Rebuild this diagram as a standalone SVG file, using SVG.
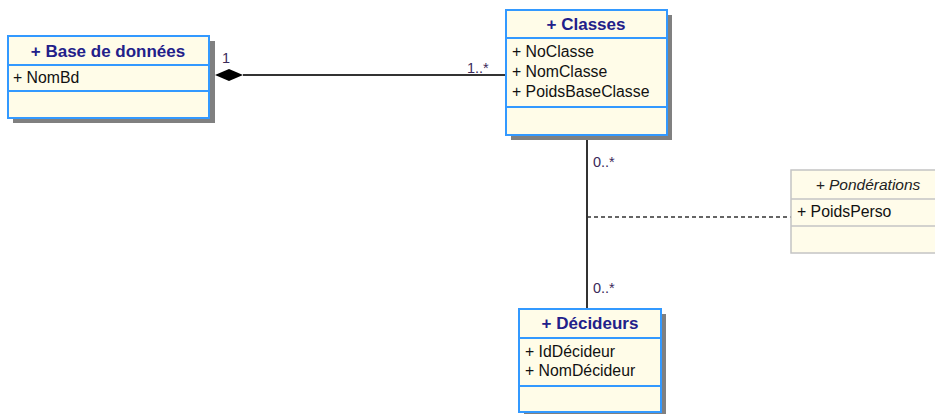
<svg xmlns="http://www.w3.org/2000/svg" width="935" height="414" viewBox="0 0 935 414">
  <style>
    .shadow { fill: #808080; }
    .box { fill: #fffce8; stroke: #3399ff; stroke-width: 2; }
    .sep { stroke: #3399ff; stroke-width: 2; }
    .box2 { fill: #fffcea; stroke: #c4c4c4; stroke-width: 1.5; }
    .sep2 { stroke: #c4c4c4; stroke-width: 1.5; }
    .title { font-family: "Liberation Sans", Arial, sans-serif; font-size: 17px; font-weight: bold; fill: #22208a; text-anchor: middle; }
    .ititle { font-family: "Liberation Sans", Arial, sans-serif; font-size: 15.5px; font-style: italic; fill: #222; text-anchor: middle; }
    .attr { font-family: "Liberation Sans", Arial, sans-serif; font-size: 15.8px; fill: #111; }
    .mult { font-family: "Liberation Sans", Arial, sans-serif; font-size: 14.5px; fill: #3a2a5a; }
    .line { stroke: #333; stroke-width: 2; fill: none; }
    .dash { stroke: #333; stroke-width: 1.5; stroke-dasharray: 4 3; fill: none; }
  </style>

  <g id="connectors">
    <!-- composition Base de données 1 -> 1..* Classes -->
    <line class="line" x1="243" y1="75" x2="506" y2="75"/>
    <polygon points="215,75 229,69 243,75 229,81" fill="#000"/>
    <text class="mult" x="222" y="63">1</text>
    <text class="mult" x="467" y="73">1..*</text>
    <!-- association Classes 0..* - 0..* Décideurs -->
    <line class="line" x1="587" y1="136" x2="587" y2="309"/>
    <text class="mult" x="593" y="167">0..*</text>
    <text class="mult" x="593" y="293">0..*</text>
    <!-- association class link -->
    <line class="dash" x1="587" y1="217" x2="791" y2="217"/>
  </g>

  <g id="base-de-donnees">
    <rect class="shadow" x="13" y="41" width="202" height="82"/>
    <rect class="box" x="8" y="36" width="201" height="82"/>
    <line class="sep" x1="8" y1="65" x2="209" y2="65"/>
    <line class="sep" x1="8" y1="91" x2="209" y2="91"/>
    <text class="title" x="108" y="57">+ Base de données</text>
    <text class="attr" x="13" y="83">+ NomBd</text>
  </g>

  <g id="classes">
    <rect class="shadow" x="511" y="15" width="161" height="125"/>
    <rect class="box" x="506" y="10" width="161" height="125"/>
    <line class="sep" x1="506" y1="38" x2="667" y2="38"/>
    <line class="sep" x1="506" y1="107" x2="667" y2="107"/>
    <text class="title" x="586" y="30">+ Classes</text>
    <text class="attr" x="512" y="57">+ NoClasse</text>
    <text class="attr" x="512" y="77">+ NomClasse</text>
    <text class="attr" x="512" y="97">+ PoidsBaseClasse</text>
  </g>

  <g id="ponderations">
    <rect class="box2" x="791" y="170" width="160" height="83"/>
    <line class="sep2" x1="791" y1="199" x2="935" y2="199"/>
    <line class="sep2" x1="791" y1="226" x2="935" y2="226"/>
    <text class="ititle" x="868" y="190">+ Pondérations</text>
    <text class="attr" x="797" y="217">+ PoidsPerso</text>
  </g>

  <g id="decideurs">
    <rect class="shadow" x="524" y="314" width="142" height="103"/>
    <rect class="box" x="519" y="309" width="142" height="103"/>
    <line class="sep" x1="519" y1="338" x2="661" y2="338"/>
    <line class="sep" x1="519" y1="386" x2="661" y2="386"/>
    <text class="title" x="590" y="329">+ Décideurs</text>
    <text class="attr" x="525" y="357">+ IdDécideur</text>
    <text class="attr" x="525" y="376">+ NomDécideur</text>
  </g>
</svg>
